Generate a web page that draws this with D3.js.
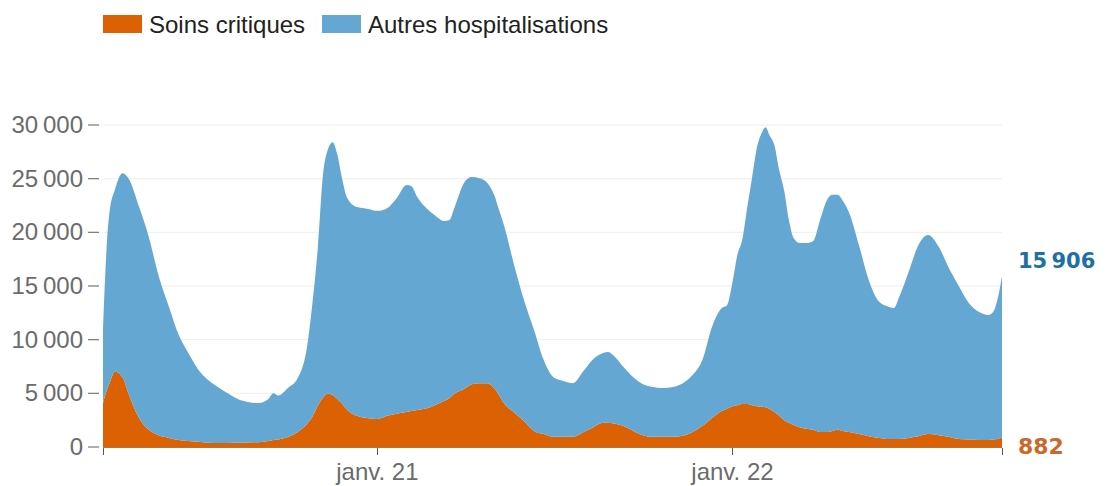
<!DOCTYPE html>
<html>
<head>
<meta charset="utf-8">
<script src="https://cdn.jsdelivr.net/npm/d3@7"></script>
<style>
  body { margin: 0; background: #fff; }
  svg text { font-family: "Liberation Sans", Arial, sans-serif; }
</style>
</head>
<body>
<svg id="chart" width="1110" height="486"></svg>
<script>
// dates of the readings (roughly every 5-10 days)
var dates = [
  "2020-03-25","2020-03-29","2020-04-01","2020-04-06","2020-04-14","2020-04-21","2020-05-01","2020-05-11","2020-05-21",
  "2020-06-01","2020-06-11","2020-06-21","2020-07-01","2020-07-11","2020-07-21","2020-08-01","2020-08-11","2020-08-21",
  "2020-09-01","2020-09-11","2020-09-16","2020-09-21","2020-10-01","2020-10-11","2020-10-21","2020-10-26","2020-11-01",
  "2020-11-06","2020-11-11","2020-11-16","2020-11-21","2020-11-26","2020-12-01","2020-12-11","2020-12-21","2021-01-01",
  "2021-01-11","2021-01-21","2021-01-31","2021-02-05","2021-02-11","2021-02-21","2021-03-01","2021-03-11","2021-03-16",
  "2021-03-21","2021-03-31","2021-04-08","2021-04-16","2021-04-24","2021-05-01","2021-05-06","2021-05-11","2021-05-21",
  "2021-06-01","2021-06-11","2021-06-21","2021-07-01","2021-07-11","2021-07-21","2021-08-01","2021-08-11","2021-08-21",
  "2021-08-26","2021-09-01","2021-09-11","2021-09-21","2021-10-01","2021-10-11","2021-10-21","2021-11-01","2021-11-11",
  "2021-11-21","2021-12-01","2021-12-11","2021-12-21","2021-12-26","2022-01-01","2022-01-06","2022-01-11","2022-01-16",
  "2022-01-21","2022-01-26","2022-01-31","2022-02-04","2022-02-08","2022-02-13","2022-02-18","2022-02-23","2022-02-28",
  "2022-03-05","2022-03-11","2022-03-18","2022-03-25","2022-04-01","2022-04-08","2022-04-14","2022-04-19","2022-04-24",
  "2022-05-01","2022-05-11","2022-05-21","2022-06-01","2022-06-11","2022-06-16","2022-06-21","2022-07-01","2022-07-11",
  "2022-07-21","2022-08-01","2022-08-11","2022-08-21","2022-09-01","2022-09-11","2022-09-21","2022-09-26","2022-10-01",
  "2022-10-05"
];

var soinsCritiques = [
  4100,5300,6000,7000,6500,4800,2700,1600,1100,
  850,650,550,480,400,380,380,390,420,
  450,560,650,700,930,1400,2200,2800,3900,
  4600,4950,4850,4450,4000,3450,2900,2700,2600,
  2900,3100,3250,3350,3450,3600,3900,4300,4550,
  4950,5400,5850,5950,5950,5500,4850,4100,3250,
  2400,1500,1200,950,950,950,1400,1850,2250,
  2250,2200,1950,1500,1100,950,950,950,1050,
  1400,1950,2700,3350,3550,3800,3900,4000,4000,
  3900,3800,3750,3700,3550,3250,2900,2500,2250,
  2050,1850,1700,1600,1400,1400,1500,1600,1500,
  1400,1200,1000,850,750,750,750,850,1000,
  1200,1100,950,750,700,650,650,700,780,
  882
];

var autresHospitalisations = [
  6800,13700,16100,16900,19000,20100,19700,18000,14900,
  12150,9750,8150,6720,5850,5220,4570,4060,3780,
  3650,3910,4350,4100,4570,5000,7300,10400,14900,
  20700,22750,23550,22750,20900,19750,19450,19500,19400,
  19350,20100,21150,20950,19850,18600,17700,16750,16600,
  17300,19200,19300,19100,18650,18000,17250,16600,13900,
  11200,9400,6900,5550,5200,5000,5700,6350,6500,
  6600,6300,5500,5000,4750,4650,4550,4650,4900,
  5300,6150,8500,9600,9600,11550,14000,15300,18250,
  21150,24050,25500,26100,25500,24900,22900,21450,18900,
  17400,17150,17300,17600,19750,21600,22000,21900,21500,
  20400,17600,14550,12650,12300,12200,13150,15450,17800,
  18550,17550,15800,14350,12700,11950,11650,11900,13220,
  15024
];

var yTicks = [0, 5000, 10000, 15000, 20000, 25000, 30000];
var xTickDates = ["2021-01-01", "2022-01-01"];
var xTickLabels = ["janv. 21", "janv. 22"];
var seriesNames = ["Soins critiques", "Autres hospitalisations"];
var colors = {critiques: "#dc6103", autres: "#64a7d3"};

var parse = d3.timeParse("%Y-%m-%d");
var fr = d3.formatLocale({decimal: ",", thousands: "\u2009", grouping: [3], currency: ["", " €"]});
var fmt = fr.format(",d");

var rows = dates.map(function(d, i) {
    return {date: parse(d), critiques: soinsCritiques[i], autres: autresHospitalisations[i]};
});

var svg = d3.select("#chart");
var x = d3.scaleTime()
    .domain(d3.extent(rows, function(d) { return d.date; }))
    .range([103, 1002]);
var y = d3.scaleLinear()
    .domain([0, 30000])
    .range([447, 125]);

// grid lines
svg.append("g").selectAll("line")
    .data(yTicks.slice(1))
    .enter().append("line")
    .attr("x1", 103).attr("x2", 1002)
    .attr("y1", y).attr("y2", y)
    .style("stroke", "#eeeeee");

var stack = d3.stack().keys(["critiques", "autres"]);
var layers = stack(rows);

var area = d3.area()
    .x(function(d) { return x(d.data.date); })
    .y0(function(d) { return y(d[0]); })
    .y1(function(d) { return y(d[1]); })
    .curve(d3.curveMonotoneX);

svg.append("g").selectAll("path")
    .data(layers)
    .enter().append("path")
    .attr("d", area)
    .style("fill", function(d) { return colors[d.key]; });

// y axis
var yAxis = svg.append("g");
yAxis.selectAll("line")
    .data(yTicks)
    .enter().append("line")
    .attr("x1", 88).attr("x2", 99)
    .attr("y1", y).attr("y2", y)
    .style("stroke", "#777").style("stroke-width", 1.2);
yAxis.selectAll("text")
    .data(yTicks)
    .enter().append("text")
    .attr("x", 83).attr("y", function(d) { return y(d) + 8; })
    .attr("text-anchor", "end")
    .style("font-size", "24px").style("fill", "#6b6b6b")
    .text(function(d) { return fmt(d); });

// x axis
var xAxis = svg.append("g");
xAxis.append("line")
    .attr("x1", 103).attr("x2", 1002)
    .attr("y1", 447.5).attr("y2", 447.5)
    .style("stroke", "#b0743f");
var tickDates = [x.domain()[0]].concat(xTickDates.map(parse), [x.domain()[1]]);
xAxis.selectAll("line.tick")
    .data(tickDates)
    .enter().append("line")
    .attr("class", "tick")
    .attr("x1", function(d) { return Math.round(x(d)) + 0.5; })
    .attr("x2", function(d) { return Math.round(x(d)) + 0.5; })
    .attr("y1", 448).attr("y2", 455)
    .style("stroke", "#555");
xAxis.selectAll("text")
    .data(xTickDates)
    .enter().append("text")
    .attr("x", function(d) { return x(parse(d)); })
    .attr("y", 480)
    .attr("text-anchor", "middle")
    .style("font-size", "24px").style("fill", "#6b6b6b")
    .text(function(d, i) { return xTickLabels[i]; });

// end labels
var last = rows[rows.length - 1];
svg.append("text")
    .attr("x", 1018).attr("y", y(last.critiques + last.autres) - 8)
    .style("font-family", "'DejaVu Sans', sans-serif")
    .style("font-weight", "bold").style("font-size", "21px").style("fill", "#1d6fa5")
    .text(fmt(last.critiques + last.autres));
svg.append("text")
    .attr("x", 1018).attr("y", y(last.critiques) + 16)
    .style("font-family", "'DejaVu Sans', sans-serif")
    .style("font-weight", "bold").style("font-size", "22px").style("fill", "#c9692a")
    .text(fmt(last.critiques));

// legend
var legend = svg.append("g");
var legendX = [103, 322];
legend.selectAll("rect")
    .data(seriesNames)
    .enter().append("rect")
    .attr("x", function(d, i) { return legendX[i]; })
    .attr("y", 15).attr("width", 39).attr("height", 18)
    .style("fill", function(d, i) { return i == 0 ? colors.critiques : colors.autres; });
legend.selectAll("text")
    .data(seriesNames)
    .enter().append("text")
    .attr("x", function(d, i) { return legendX[i] + 46; })
    .attr("y", 33)
    .style("font-size", "24px").style("fill", "#222")
    .text(function(d) { return d; });
</script>
</body>
</html>
